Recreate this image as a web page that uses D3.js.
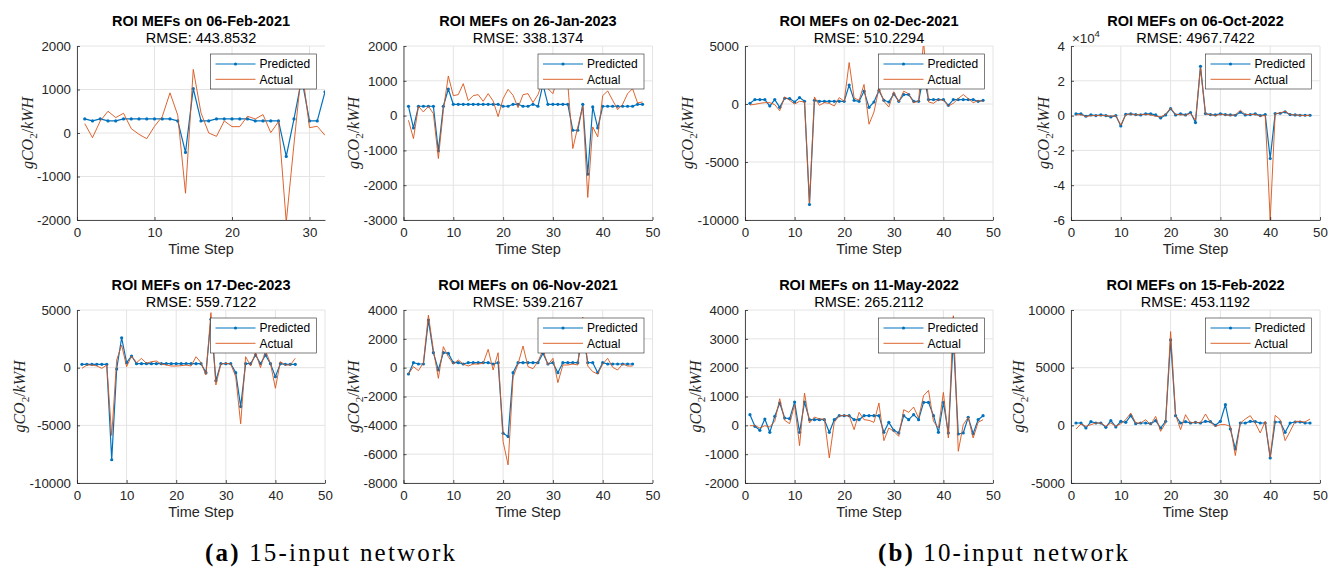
<!DOCTYPE html>
<html>
<head>
<meta charset="utf-8">
<script src="https://cdn.jsdelivr.net/npm/d3@7"></script>
<style>
    body { margin: 0; background: #fff; }
    svg text { font-family: "Liberation Sans", Arial, Helvetica, sans-serif; fill: #262626; }
</style>
</head>
<body>
<svg id="fig" width="1341" height="570"></svg>
<script>
// titles and RMSE labels, row by row
const titles = ["ROI MEFs on 06-Feb-2021", "ROI MEFs on 26-Jan-2023", "ROI MEFs on 02-Dec-2021", "ROI MEFs on 06-Oct-2022",
                "ROI MEFs on 17-Dec-2023", "ROI MEFs on 06-Nov-2021", "ROI MEFs on 11-May-2022", "ROI MEFs on 15-Feb-2022"];
const rmseLabels = ["RMSE: 443.8532", "RMSE: 338.1374", "RMSE: 510.2294", "RMSE: 4967.7422",
                    "RMSE: 559.7122", "RMSE: 539.2167", "RMSE: 265.2112", "RMSE: 453.1192"];
const seriesNames = ["Predicted", "Actual"];
const captions = ["15-input network", "10-input network"];

// y tick values per panel
const yTicks = [
    [-2000, -1000, 0, 1000, 2000],
    [-3000, -2000, -1000, 0, 1000, 2000],
    [-10000, -5000, 0, 5000],
    [-60000, -40000, -20000, 0, 20000, 40000],
    [-10000, -5000, 0, 5000],
    [-8000, -6000, -4000, -2000, 0, 2000, 4000],
    [-2000, -1000, 0, 1000, 2000, 3000, 4000],
    [-5000, 0, 5000, 10000]
];
const xTicksShort = [0, 10, 20, 30];
const xTicksLong = [0, 10, 20, 30, 40, 50];

// series values (gCO2/kWH), one value per time step starting at 1
const p1Predicted = [323, 277, 323, 277, 277, 323, 323, 323, 323, 323, 323, 323, 277, -446, 1023, 277, 277, 323, 323, 323, 323, 323, 277, 277, 277, 277, -538, 323, 1250, 277, 277, 946];
const p1Actual = [215, -108, 277, 500, 354, 454, 100, -31, -131, 154, 377, 923, 408, -1385, 1462, 462, 0, -77, 277, 146, 146, 385, 323, 423, 8, 262, -2050, -250, 1500, 123, 154, -54];

const p2Predicted = [268, -354, 268, 268, 268, 268, -1013, 268, 765, 325, 325, 325, 325, 325, 325, 325, 325, 325, 325, 268, 268, 325, 325, 268, 268, 325, 268, 900, 325, 325, 325, 325, 325, -421, -421, 325, -1683, 249, -354, 268, 268, 268, 268, 268, 268, 268, 325, 325];
const p2Actual = [-134, -660, 268, 105, 268, 57, -1233, 153, 1138, 574, 602, 918, 430, 574, 602, 411, 631, 421, -29, 488, 755, 583, 229, 602, 631, 373, 602, 1000, 774, 631, 1100, 1000, 900, -946, -325, 268, -2352, -325, -612, 574, 707, 440, 172, 325, 631, 774, 363, 392];

const p3Predicted = [58, 378, 378, 378, -174, 378, -290, 494, 465, 174, 552, 233, -8663, 320, 233, 233, 233, 233, 233, 233, 1628, 320, 233, 1105, -290, 174, 1163, 320, 174, 872, 233, 814, 814, 233, 233, 2500, 378, 378, 378, 378, -116, 378, 378, 378, 378, 378, 233, 320];
const p3Actual = [-87, -29, 58, 116, 116, -58, -581, 610, 320, 0, 233, 174, -8547, 610, -116, 116, 58, -174, 552, 233, 3576, 523, 320, 1686, -1744, -698, 1337, 233, -262, 1047, 174, 1105, 872, 116, 233, 5400, 174, 58, 378, 320, -174, 58, 465, 814, 465, 116, 291, 233];

const p4Predicted = [956, 956, -382, 382, 0, 382, 0, -765, 0, -5927, 765, 956, 574, 382, 956, 956, 382, -1338, 382, 4015, 382, 956, 382, 1721, -4015, 28298, 1147, 574, 382, 956, 574, 382, 191, 1912, 382, 574, 956, 0, 574, -24665, 1147, 1338, 2103, 574, 382, 191, 191, 191];
const p4Actual = [382, 574, -574, 0, 0, 0, 0, -382, 0, -5545, 574, 956, 382, 574, 765, 382, -382, -765, 765, 4398, 574, 574, 191, 1338, -2677, 27533, 956, 574, 0, 765, 382, 191, 382, 3059, 574, 574, 765, -382, 191, -60000, 1147, 1530, 2486, 574, 382, 191, 0, 191];

const p5Predicted = [288, 288, 288, 288, 288, 288, -7983, -115, 2594, 432, 1009, 346, 346, 346, 346, 346, 346, 346, 346, 346, 346, 346, 346, 346, 346, -432, 4200, -1124, 346, 346, 346, -432, -3372, 346, 346, 1095, 346, 1095, 346, -778, 346, 288, 288, 288];
const p5Actual = [-58, 231, 231, 144, -58, 231, -5879, 663, 1960, 86, 1009, 432, 807, 375, 519, 576, 317, 231, 144, 144, 173, 231, 144, 951, 432, -634, 4770, -1499, 317, 375, 317, -778, -4870, 951, 144, 1297, 0, 1470, 375, -1787, 519, 231, 231, 807];

const p6Predicted = [-439, 346, 254, 254, 3302, 1039, -162, 1039, 993, 346, 346, 254, 346, 346, 346, 346, 346, 254, 346, -4550, -4781, -346, 346, 346, 346, 346, 346, 993, 254, 346, -346, 346, 346, 346, 346, 2500, 346, 346, -346, 346, 254, 254, 254, 254, 254, 254];
const p6Actual = [-439, 69, -208, 346, 3649, 1224, -739, 1455, 762, 254, 531, 254, 115, 254, 254, 300, 1270, -162, 1039, -5127, -6744, -670, 254, 1501, 69, -69, 416, 1224, 185, 647, -1039, 185, 185, 254, 185, 3500, 115, -277, -439, 254, 647, 23, -162, 254, 115, 115];

const p7Predicted = [369, -35, -173, 219, -242, 311, 773, 254, 231, 807, -242, 807, 196, 196, 196, 196, -242, 196, 334, 334, 334, 196, 196, 334, 334, 334, 334, -242, 104, -173, -265, 334, 196, 369, 196, 796, 796, 334, -242, 796, -265, 3000, -300, -265, 277, -288, 196, 334];
const p7Actual = [-12, -12, -92, -12, -58, 138, 923, 173, 58, 715, -704, 1119, 81, 288, 219, 219, -1130, 104, 334, 334, 334, -150, 450, 196, 173, 104, 773, -531, -92, -208, -381, 542, 450, 634, 254, 1027, 1211, 138, -92, 1142, -438, 3800, -900, 23, 277, -438, 104, 196];

const p8Predicted = [202, 202, -231, 317, 202, 202, -173, 403, -144, 346, 259, 836, 144, 202, 202, 144, 403, -231, 346, 7406, 836, 202, 317, 202, 259, 202, 346, 317, 0, 346, 1787, -317, -2046, 202, 202, 346, 317, 202, 202, -2824, 288, 288, -605, 202, 288, 288, 202, 202];
const p8Actual = [-317, 115, -86, 58, 202, 202, -86, 202, -86, 144, 490, 1066, 202, 202, 490, 58, 778, -519, 202, 8127, 922, -375, 922, 202, 288, 202, 980, 259, -86, 58, 58, -86, -2622, 202, 548, 836, 202, -663, 346, -2767, 865, 490, -1326, -519, 346, 346, 288, 548];

const predicted = [p1Predicted, p2Predicted, p3Predicted, p4Predicted, p5Predicted, p6Predicted, p7Predicted, p8Predicted];
const actual = [p1Actual, p2Actual, p3Actual, p4Actual, p5Actual, p6Actual, p7Actual, p8Actual];

const blue = "#0072BD";
const orange = "#D95319";
const gridColor = "#e4e4e4";
const axisColor = "#262626";

const colLeft = [77, 403.5, 745, 1071];
const colRight = [325, 652.5, 993, 1320];
const rowTop = [46, 310];
const rowBottom = [220, 483];

const svg = d3.select("#fig");

function drawPanel(i, {
    left, right, top, bottom,
    xTicks, yTickValues,
    xDomain = [0, 50],
    yFormat = d => String(d),
    exponent = null
} = {}) {
    const g = svg.append("g");
    const yDomain = d3.extent(yTickValues);
    const x = d3.scaleLinear().domain(xDomain).range([left, right]);
    const y = d3.scaleLinear().domain(yDomain).range([bottom, top]);

    // grid
    g.append("g").selectAll("line").data(xTicks).join("line")
        .attr("x1", d => x(d)).attr("x2", d => x(d))
        .attr("y1", top).attr("y2", bottom)
        .attr("stroke", gridColor).attr("stroke-width", 1);
    g.append("g").selectAll("line").data(yTickValues).join("line")
        .attr("x1", left).attr("x2", right)
        .attr("y1", d => y(d)).attr("y2", d => y(d))
        .attr("stroke", gridColor).attr("stroke-width", 1);

    // clip to the axes box
    const clipId = "clip" + i;
    svg.append("clipPath").attr("id", clipId)
        .append("rect").attr("x", left).attr("y", top)
        .attr("width", right - left).attr("height", bottom - top);

    const line = d3.line()
        .x((d, k) => x(k + 1))
        .y(d => y(d));

    const plot = g.append("g").attr("clip-path", `url(#${clipId})`);
    plot.append("path")
        .attr("fill", "none")
        .attr("stroke", blue)
        .attr("stroke-width", 1.2)
        .attr("stroke-linejoin", "round")
        .attr("d", line(predicted[i]));
    plot.append("g").selectAll("circle").data(predicted[i]).join("circle")
        .attr("cx", (d, k) => x(k + 1))
        .attr("cy", d => y(d))
        .attr("r", 1.6)
        .attr("fill", blue);
    plot.append("path")
        .attr("fill", "none")
        .attr("stroke", orange)
        .attr("stroke-width", 0.9)
        .attr("stroke-linejoin", "round")
        .attr("d", line(actual[i]));

    // axes
    const xAxis = d3.axisBottom(x).tickValues(xTicks).tickSizeInner(-3).tickSizeOuter(0).tickPadding(8);
    const yAxis = d3.axisLeft(y).tickValues(yTickValues).tickFormat(yFormat).tickSizeInner(-3).tickSizeOuter(0).tickPadding(6);

    const gx = g.append("g")
        .attr("transform", `translate(0,${bottom})`)
        .call(xAxis)
        .attr("font-size", 13.3)
        .attr("font-family", null);
    const gy = g.append("g")
        .attr("transform", `translate(${left},0)`)
        .call(yAxis)
        .attr("font-size", 13.3)
        .attr("font-family", null);
    [gx, gy].forEach(a => {
        a.select(".domain").attr("stroke", axisColor).attr("stroke-width", 0.8);
        a.selectAll(".tick line").attr("stroke", axisColor).attr("stroke-width", 0.8);
        a.selectAll(".tick text").attr("fill", axisColor);
    });

    // axis labels
    g.append("text")
        .attr("x", (left + right) / 2)
        .attr("y", bottom + 34)
        .attr("text-anchor", "middle")
        .attr("font-size", 14.5)
        .text("Time Step");

    let tickLeft = left;
    gy.selectAll(".tick text").each(function () {
        const b = this.getBBox();
        tickLeft = Math.min(tickLeft, left + b.x);
    });
    const yl = g.append("text")
        .attr("transform", `translate(${tickLeft - 10},${(top + bottom) / 2}) rotate(-90)`)
        .attr("dy", "0.35em")
        .attr("text-anchor", "middle")
        .attr("font-size", 16)
        .style("font-family", "'Liberation Serif', 'Times New Roman', serif");
    yl.append("tspan").attr("font-style", "italic").text("gCO");
    yl.append("tspan").attr("font-size", 11).attr("dy", 4).text("2");
    yl.append("tspan").attr("dy", -4).text("/");
    yl.append("tspan").attr("font-style", "italic").text("kWH");

    if (exponent) {
        const ex = g.append("text").attr("x", left + 1).attr("y", top - 3).attr("font-size", 13.3);
        ex.append("tspan").text("\u00d710");
        ex.append("tspan").attr("font-size", 9.5).attr("dy", -6).text(exponent);
    }

    // titles
    g.append("text")
        .attr("x", (left + right) / 2)
        .attr("y", top - 20)
        .attr("text-anchor", "middle")
        .attr("font-size", 14.5)
        .attr("font-weight", "bold")
        .style("fill", "#000")
        .text(titles[i]);
    g.append("text")
        .attr("x", (left + right) / 2)
        .attr("y", top - 3.5)
        .attr("text-anchor", "middle")
        .attr("font-size", 14.5)
        .style("fill", "#000")
        .text(rmseLabels[i]);

    // legend
    const lw = 106, lh = 35;
    const lx = right - 8.5 - lw, ly = top + 8;
    const lg = g.append("g").attr("transform", `translate(${lx},${ly})`);
    lg.append("rect")
        .attr("width", lw).attr("height", lh)
        .attr("fill", "#fff")
        .attr("stroke", axisColor).attr("stroke-width", 0.6);
    const rows = [
        { name: seriesNames[0], color: blue, y: 10, marker: true, width: 1.2 },
        { name: seriesNames[1], color: orange, y: 25.3, marker: false, width: 0.9 }
    ];
    rows.forEach(r => {
        lg.append("line")
            .attr("x1", 5).attr("x2", 45)
            .attr("y1", r.y).attr("y2", r.y)
            .attr("stroke", r.color).attr("stroke-width", r.width);
        if (r.marker) {
            lg.append("circle").attr("cx", 25).attr("cy", r.y).attr("r", 1.6).attr("fill", r.color);
        }
        lg.append("text")
            .attr("x", 49).attr("y", r.y)
            .attr("dy", "0.35em")
            .attr("font-size", 12)
            .style("fill", "#000")
            .text(r.name);
    });
}

for (let i = 0; i < 8; i++) {
    const row = Math.floor(i / 4), col = i % 4;
    drawPanel(i, {
        left: colLeft[col], right: colRight[col],
        top: rowTop[row], bottom: rowBottom[row],
        xTicks: i === 0 ? xTicksShort : xTicksLong,
        xDomain: i === 0 ? [0, 32] : [0, 50],
        yTickValues: yTicks[i],
        yFormat: i === 3 ? (d => String(d / 10000)) : (d => String(d)),
        exponent: i === 3 ? "4" : null
    });
}

// sub-figure captions
const capX = [330, 1003];
["a", "b"].forEach((letter, k) => {
    const t = svg.append("text")
        .attr("x", capX[k])
        .attr("y", 561)
        .attr("text-anchor", "middle")
        .attr("font-size", 25)
        .attr("textLength", 250)
        .attr("lengthAdjust", "spacing")
        .style("font-family", "'Liberation Serif', 'Times New Roman', serif")
        .style("fill", "#000");
    t.append("tspan").attr("font-weight", "bold").text(`(${letter})`);
    t.append("tspan").text(" " + captions[k]);
});
</script>
</body>
</html>
